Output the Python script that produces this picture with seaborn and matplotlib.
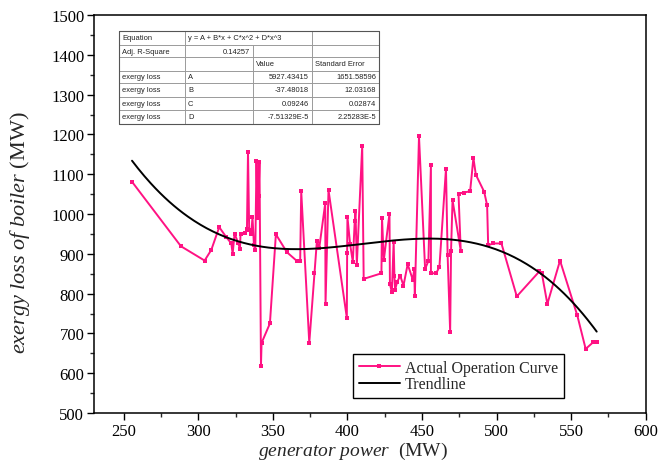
import numpy as np
import pandas as pd
import matplotlib
matplotlib.use("Agg")
import matplotlib.pyplot as plt
from matplotlib.ticker import MultipleLocator
import seaborn as sns

# ---------------- data ----------------
power = [255.5, 288.3, 304.2, 308.7, 314.0, 318.5, 322.1, 323.0, 324.3, 326.6,
         327.9, 328.3, 331.5, 332.6, 333.3, 334.1, 335.5, 336.3, 337.3, 338.2,
         339.0, 339.7, 340.4, 341.0, 342.0, 342.4, 348.0, 352.0, 359.4, 366.1,
         368.3, 369.0, 374.4, 377.9, 379.5, 381.1, 385.1, 385.3, 387.3, 399.6,
         399.8, 400.0, 401.8, 403.6, 404.9, 405.4, 406.3, 409.9, 410.9, 422.8,
         423.2, 424.4, 428.2, 428.5, 429.8, 431.0, 431.5, 432.0, 433.3, 435.4,
         437.6, 440.4, 443.9, 444.8, 445.2, 448.0, 452.1, 454.3, 456.0, 456.0,
         459.5, 461.7, 466.1, 467.2, 468.9, 469.5, 470.5, 476.0, 474.5, 478.0,
         482.3, 484.5, 486.1, 491.7, 493.7, 494.4, 497.5, 503.3, 513.6, 528.8,
         530.4, 534.1, 542.6, 554.2, 559.8, 564.9, 567.2]
exergy = [1081, 919, 883, 910, 967, 943, 926, 900, 951, 928,
          913, 951, 953, 963, 1157, 959, 949, 993, 921, 909,
          1134, 991, 1044, 1130, 619, 676, 725, 949, 904, 882,
          883, 1057, 676, 851, 932, 915, 1027, 774, 1060, 739,
          903, 993, 924, 880, 983, 1008, 873, 1171, 837, 851,
          990, 884, 1001, 824, 803, 930, 844, 810, 829, 845,
          820, 874, 834, 862, 793, 1195, 862, 882, 1123, 851,
          851, 867, 1114, 896, 704, 908, 1035, 908, 1051, 1054,
          1057, 1141, 1099, 1056, 1022, 921, 926, 926, 793, 856,
          851, 774, 883, 745, 661, 678, 678]

equation = "y = A + B*x + C*x^2 + D*x^3"
adj_r2 = "0.14257"
series_name = "exergy loss"
coef_names = ["A", "B", "C", "D"]
coef_values = [5927.43415, -37.48018, 0.09246, -7.51329e-5]
coef_value_labels = ["5927.43415", "-37.48018", "0.09246", "-7.51329E-5"]
coef_se_labels = ["1651.58596", "12.03168", "0.02874", "2.25283E-5"]

x_ticks = [250, 300, 350, 400, 450, 500, 550, 600]
y_ticks = [500, 600, 700, 800, 900, 1000, 1100, 1200, 1300, 1400, 1500]

# ---------------- style ----------------
sns.set_style("ticks")
plt.rcParams["font.family"] = ["Liberation Serif", "DejaVu Serif"]
plt.rcParams["mathtext.fontset"] = "custom"
plt.rcParams["mathtext.rm"] = "Liberation Serif"
plt.rcParams["mathtext.it"] = "Liberation Serif:italic"

PINK = "#FF1283"

fig = plt.figure(figsize=(6.61, 4.64), dpi=100)
ax = fig.add_axes([94 / 661, 50 / 464, 551.6 / 661, 398 / 464])

df = pd.DataFrame({"power": power, "exergy": exergy})
sns.lineplot(data=df, x="power", y="exergy", sort=False, estimator=None,
             color=PINK, lw=1.4, marker="s", markersize=3.4,
             markeredgewidth=0, label="Actual Operation Curve", ax=ax)

xs = np.linspace(min(power), max(power), 300)
ys = np.polyval(coef_values[::-1], xs)
sns.lineplot(x=xs, y=ys, color="black", lw=1.4, label="Trendline", ax=ax)

ax.set_xlim(230, 600)
ax.set_ylim(500, 1500)
ax.set_xticks(x_ticks)
ax.set_yticks(y_ticks)
ax.xaxis.set_minor_locator(MultipleLocator(25))
ax.yaxis.set_minor_locator(MultipleLocator(50))
ax.tick_params(which="major", direction="out", length=5, width=1, labelsize=12,
               top=False, right=False, pad=2, colors="black")
ax.tick_params(which="minor", direction="out", length=3, width=1,
               top=False, right=False)
for s in ax.spines.values():
    s.set_visible(True)
    s.set_linewidth(1.1)
    s.set_color("black")

ax.set_xlabel(r"$\mathit{generator\ power}$  (MW)", fontsize=14)
ax.set_ylabel(r"$\mathit{exergy\ loss\ of\ boiler}$ (MW)", fontsize=16)
ax.xaxis.set_label_coords(0.4695, -0.067)
ax.yaxis.set_label_coords(-0.112, 0.455)

leg = ax.legend(loc="lower left", bbox_to_anchor=(0.4696, 0.0377), frameon=True,
                fancybox=False, edgecolor="black", framealpha=1, fontsize=11.5,
                handlelength=2.6, handletextpad=0.3, borderpad=0.35,
                labelspacing=0.05, borderaxespad=0)
leg.get_frame().set_linewidth(1.0)

# ---------------- fit table ----------------
tax = fig.add_axes([119.3 / 661, 1 - 125 / 464, 260 / 661, 93.3 / 464])
tax.set_xlim(119.3, 379.3)
tax.set_ylim(125, 31.7)
tax.axis("off")
cols = [119.3, 185, 252.7, 311.7, 379.3]
rows = [31.7, 45.7, 58.3, 71.7, 84.3, 97.7, 111, 125]
tax.fill_between([cols[0], cols[-1]], rows[0], rows[-1], color="white", zorder=0)
lc = "#9a9a9a"
for r in rows:
    tax.plot([cols[0], cols[-1]], [r, r], color=lc, lw=0.7, clip_on=False)
for i, c in enumerate(cols):
    if i == 2:
        tax.plot([c, c], [rows[1], rows[-1]], color=lc, lw=0.7, clip_on=False)
    else:
        tax.plot([c, c], [rows[0], rows[-1]], color=lc, lw=0.7, clip_on=False)
tax.plot([cols[0], cols[-1], cols[-1], cols[0], cols[0]],
         [rows[0], rows[0], rows[-1], rows[-1], rows[0]], color="#555555", lw=0.8,
         clip_on=False)

tfs = 5.4
tfam = ["Liberation Sans", "DejaVu Sans"]
def cell(text, r, c, align="left"):
    yc = (rows[r] + rows[r + 1]) / 2
    if align == "left":
        tax.text(cols[c] + 3, yc, text, ha="left", va="center", fontsize=tfs,
                 family=tfam, color="#222222")
    else:
        tax.text(cols[c + 1] - 3, yc, text, ha="right", va="center", fontsize=tfs,
                 family=tfam, color="#222222")

cell("Equation", 0, 0)
cell(equation, 0, 1)
cell("Adj. R-Square", 1, 0)
cell(adj_r2, 1, 1, "right")
cell("Value", 2, 2)
cell("Standard Error", 2, 3)
for i, (n, v, se) in enumerate(zip(coef_names, coef_value_labels, coef_se_labels)):
    cell(series_name, 3 + i, 0)
    cell(n, 3 + i, 1)
    cell(v, 3 + i, 2, "right")
    cell(se, 3 + i, 3, "right")

fig.savefig("out.png", dpi=100)
